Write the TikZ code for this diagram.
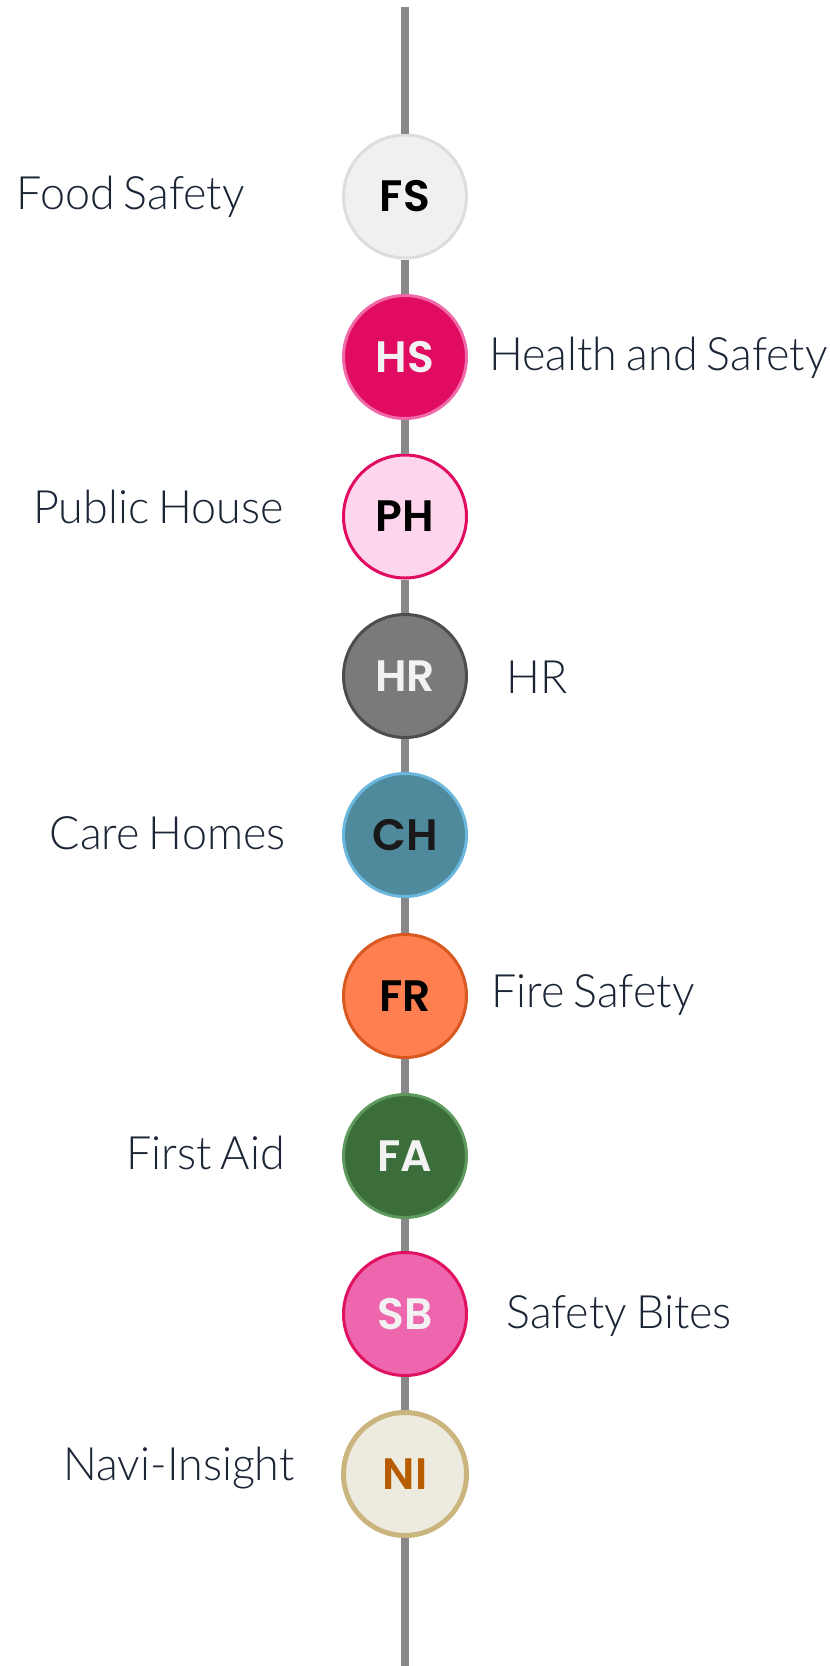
\documentclass[tikz,border=0pt]{standalone}
\usepackage{fontspec}
\IfFontExistsTF{Lato Light}{\newfontfamily\labelfont{Lato Light}[FakeStretch=0.975,WordSpace=0.75]}{%
  \IfFontExistsTF{Fira Sans Light}{\newfontfamily\labelfont{Fira Sans Light}[FakeStretch=0.92]}{\newfontfamily\labelfont{Fira Sans}[FakeStretch=0.92]}}
\IfFontExistsTF{Poppins SemiBold}{\newfontfamily\badgefont{Poppins SemiBold}}{\newfontfamily\badgefont{Poppins}[UprightFont=* Bold]}

\definecolor{ink}{HTML}{1B2536}
\definecolor{spinegray}{HTML}{888888}
\definecolor{fsfill}{HTML}{EFF0F2}
\definecolor{fsline}{HTML}{DCDDDF}
\definecolor{hsfill}{HTML}{E10B62}
\definecolor{hsline}{HTML}{EE6AA8}
\definecolor{phfill}{HTML}{FDD5EC}
\definecolor{phline}{HTML}{E10B62}
\definecolor{hrfill}{HTML}{7A7A7A}
\definecolor{hrline}{HTML}{4D4D4D}
\definecolor{chfill}{HTML}{4E8A9C}
\definecolor{chline}{HTML}{6BB7DE}
\definecolor{frfill}{HTML}{FF7F50}
\definecolor{frline}{HTML}{D9581F}
\definecolor{fafill}{HTML}{3C6E3C}
\definecolor{faline}{HTML}{5E9A5E}
\definecolor{sbfill}{HTML}{EE66AE}
\definecolor{sbline}{HTML}{E0115F}
\definecolor{nifill}{HTML}{EDEBE0}
\definecolor{niline}{HTML}{CAB57E}
\definecolor{nitext}{HTML}{B85C00}
\definecolor{paletext}{HTML}{F2F2F2}

\begin{document}
\begin{tikzpicture}[x=0.5pt,y=-0.5pt,
    badge/.style n args={3}{circle,minimum size=61.5pt,inner sep=0pt,line width=1.5pt,
      fill=#1,draw=#2,text=#3,font=\badgefont\fontsize{22}{26}\selectfont},
    caption/.style={text=ink,inner sep=0pt,font=\labelfont\fontsize{23}{28}\selectfont},
    spine/.style={line width=4pt,color=spinegray}]
  \useasboundingbox (0,0) rectangle (830,1666);

  % the badges
  \node[badge={fsfill}{fsline}{black}] (fs) at (405,196.5) {FS};
  \node[badge={hsfill}{hsline}{paletext}] (hs) at (405,357) {HS};
  \node[badge={phfill}{phline}{black}] (ph) at (405,516.5) {PH};
  \node[badge={hrfill}{hrline}{paletext}] (hr) at (405,676) {HR};
  \node[badge={chfill}{chline}{black!90}] (ch) at (405,835) {CH};
  \node[badge={frfill}{frline}{black}] (fr) at (405,996) {FR};
  \node[badge={fafill}{faline}{paletext}] (fa) at (405,1156) {FA};
  \node[badge={sbfill}{sbline}{paletext}] (sb) at (405,1314) {SB};
  \node[badge={nifill}{niline}{nitext},line width=2.5pt] (ni) at (405,1474) {NI};

  % the spine
  \coordinate (top) at (405,7);
  \coordinate (bot) at (405,1666);
  \draw[spine] (top) -- (fs);
  \draw[spine] (fs) -- (hs);
  \draw[spine] (hs) -- (ph);
  \draw[spine] (ph) -- (hr);
  \draw[spine] (hr) -- (ch);
  \draw[spine] (ch) -- (fr);
  \draw[spine] (fr) -- (fa);
  \draw[spine] (fa) -- (sb);
  \draw[spine] (sb) -- (ni);
  \draw[spine] (ni) -- (bot);

  % the captions
  \node[caption,anchor=base east] (fslabel) at (245,209) {Food Safety};
  \node[caption,anchor=base west] (hslabel) at (489,370) {Health and Safety};
  \node[caption,anchor=base east] (phlabel) at (284,523) {Public House};
  \node[caption,anchor=base west] (hrlabel) at (506,693) {HR};
  \node[caption,anchor=base east] (chlabel) at (286,849) {Care Homes};
  \node[caption,anchor=base west] (frlabel) at (491,1007) {Fire Safety};
  \node[caption,anchor=base east] (falabel) at (285,1169) {First Aid};
  \node[caption,anchor=base west] (sblabel) at (506,1328) {Safety Bites};
  \node[caption,anchor=base east] (nilabel) at (295,1480) {Navi-Insight};
\end{tikzpicture}
\end{document}
